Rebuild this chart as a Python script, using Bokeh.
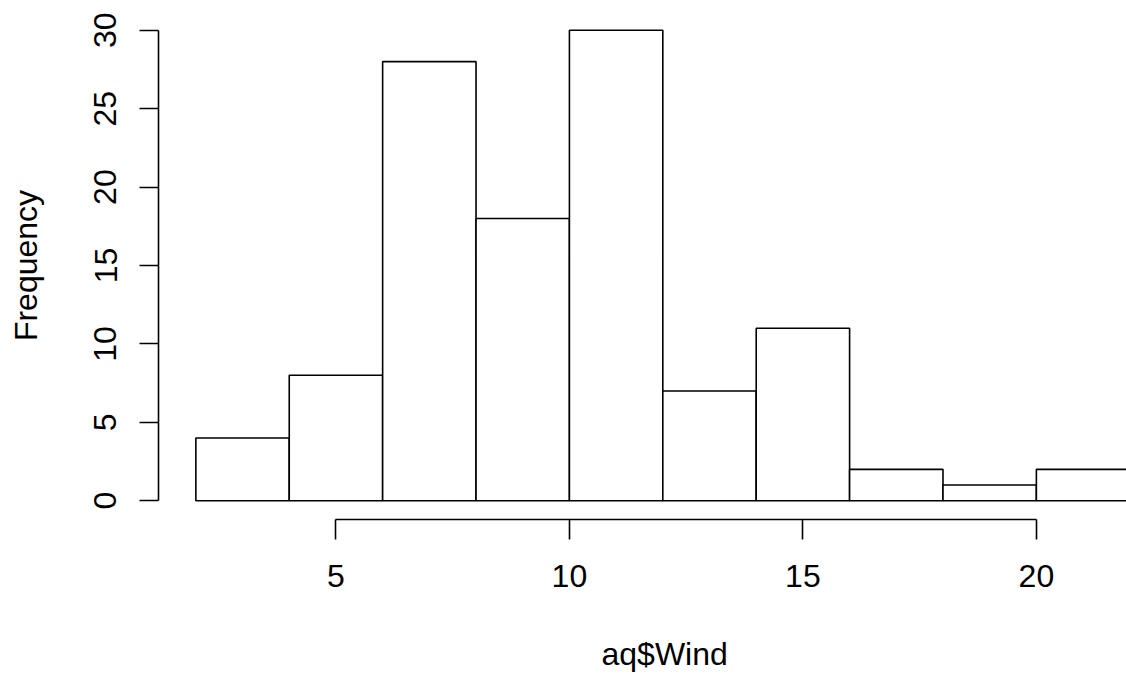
from bokeh.plotting import figure
from bokeh.models import Range1d, FixedTicker, LinearAxis, Title
from bokeh.embed import file_html
from bokeh.resources import INLINE

# Histogram of aq$Wind
bin_left = [2, 4, 6, 8, 10, 12, 14, 16, 18, 20]
bin_right = [4, 6, 8, 10, 12, 14, 16, 18, 20, 22]
counts = [4, 8, 28, 18, 30, 7, 11, 2, 1, 2]
x_ticks = [5, 10, 15, 20]
y_ticks = [0, 5, 10, 15, 20, 25, 30]
x_label = "aq$Wind"
y_label = "Frequency"

FONT = "Liberation Sans"
FS = "32px"

p = figure(width=1126, height=677, output_backend="svg", toolbar_location=None,
           x_range=Range1d(1.2, 21.93), y_range=Range1d(-1.2, 31.2),
           min_border_left=158, min_border_right=0, min_border_top=11,
           min_border_bottom=158)

p.quad(left=bin_left, right=bin_right, top=counts, bottom=0,
       fill_color="white", line_color="black", line_width=1.6)

p.outline_line_color = None
p.xgrid.grid_line_color = None
p.ygrid.grid_line_color = None
p.background_fill_color = "white"
p.border_fill_color = "white"

xa = p.xaxis[0]
xa.bounds = (5, 20)
xa.ticker = FixedTicker(ticks=x_ticks)
ya = p.yaxis[0]
ya.bounds = (0, 30)
ya.ticker = FixedTicker(ticks=y_ticks)

for ax in (xa, ya):
    ax.axis_line_color = "black"
    ax.axis_line_width = 1.6
    ax.major_tick_line_color = "black"
    ax.major_tick_line_width = 1.6
    ax.major_tick_in = 0
    ax.minor_tick_line_color = None
    ax.major_label_text_font = FONT
    ax.major_label_text_font_size = FS
    ax.major_label_text_color = "black"
    ax.axis_label_text_font = FONT
    ax.axis_label_text_font_size = FS
    ax.axis_label_text_font_style = "normal"
    ax.axis_label_text_color = "black"

xa.major_tick_out = 20
xa.major_label_standoff = 25
ya.major_tick_out = 19
ya.major_label_standoff = 23
ya.major_label_orientation = "parallel"
ya.axis_label = y_label
ya.axis_label_standoff = 48

# invisible axis used only as vertical spacing below the tick labels
spacer = LinearAxis(ticker=FixedTicker(ticks=[12]), axis_line_color=None,
                    major_tick_out=44, major_tick_in=0, minor_tick_out=0,
                    minor_tick_in=0, major_tick_line_color=None,
                    minor_tick_line_color=None, major_label_text_color=None,
                    major_label_text_font_size="0px", major_label_standoff=0)
p.add_layout(spacer, "below")

# x title, centred on the full R plot region (offset from the frame's left edge)
t = Title(text=x_label, align="left", offset=443, text_font=FONT,
          text_font_size=FS, text_font_style="normal", text_color="black",
          standoff=0)
p.add_layout(t, "below")

open("out.html", "w").write(file_html(p, INLINE))
